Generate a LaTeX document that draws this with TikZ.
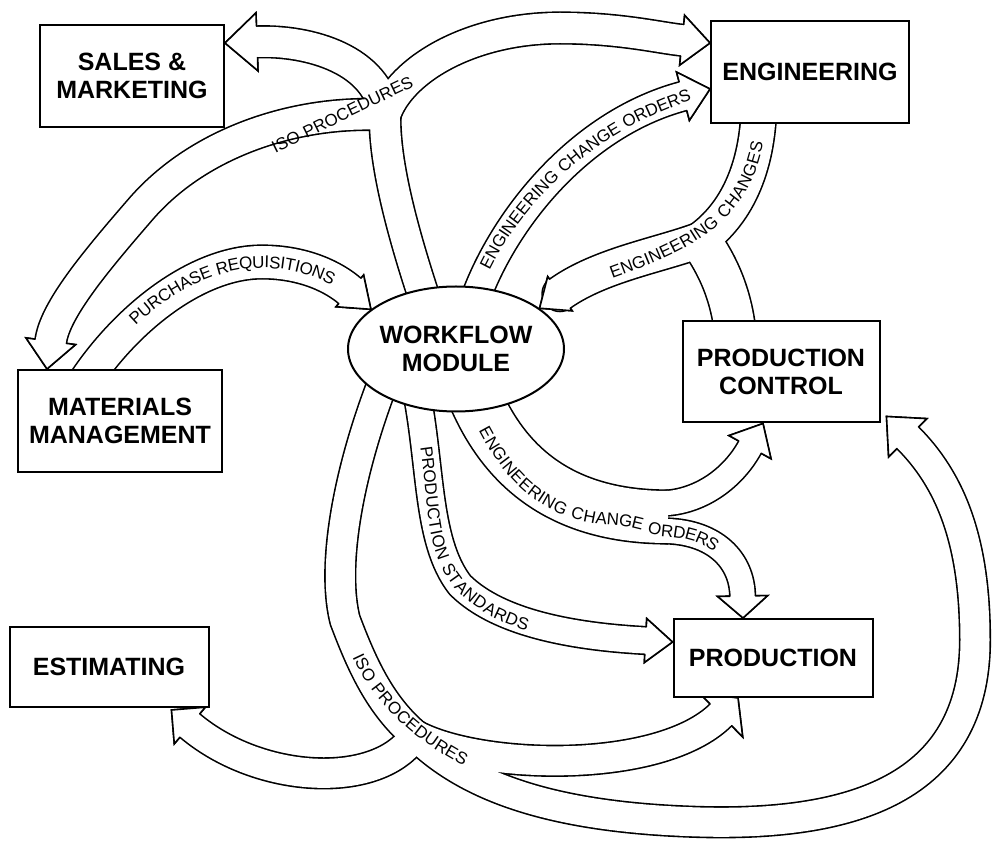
\documentclass[tikz,border=0pt]{standalone}
\usepackage{fontspec}
\setmainfont{Liberation Sans}
\newfontfamily\bandfont[LetterSpace=5]{Liberation Sans}
\newcommand\lblfont{\bandfont\fontsize{8.5}{10}\selectfont}
\usetikzlibrary{shapes.geometric,arrows.meta,calc,backgrounds,decorations.text}

% open head for the broad arrows
\pgfdeclarearrow{
  name = Band,
  parameters = {\the\pgfarrowlength,\the\pgfarrowwidth,\the\pgfarrowinset},
  setup code = {
    \pgfarrowssettipend{0pt}
    \pgfarrowssetbackend{-\pgfarrowlength}
    \pgfarrowssetlineend{-\pgfarrowlength}
    \pgfarrowssavethe\pgfarrowlength
    \pgfarrowssavethe\pgfarrowwidth
    \pgfarrowssavethe\pgfarrowinset
  },
  drawing code = {
    \pgfsetlinewidth{0.8pt}
    \pgfsetmiterjoin
    \pgfpathmoveto{\pgfqpoint{-\pgfarrowlength}{\pgfarrowinset}}
    \pgfpathlineto{\pgfqpoint{-\pgfarrowlength}{.5\pgfarrowwidth}}
    \pgfpathlineto{\pgfqpoint{0pt}{0pt}}
    \pgfpathlineto{\pgfqpoint{-\pgfarrowlength}{-.5\pgfarrowwidth}}
    \pgfpathlineto{\pgfqpoint{-\pgfarrowlength}{-\pgfarrowinset}}
    \pgfusepathqfillstroke
  },
  defaults = {length = 14pt, width = 25pt, inset = 7.9pt}
}

\begin{document}
\begin{tikzpicture}[x=0.5pt, y=-0.5pt,
    box/.style={draw, line width=1pt, fill=white, align=center, inner sep=0pt,
      font=\bfseries\fontsize{12.5}{14}\selectfont},
    band/.style={line width=#1, line cap=round, line join=round},
    bandtip/.style={-{Band[#1, fill=white, color=black]}},
    lbl/.style={decorate, decoration={text along path, text={|\lblfont|#1},
      text align=center, raise=-3pt}}]

  \useasboundingbox (0,0) rectangle (992,844);

  % departments
  \node[box, minimum width=92pt, minimum height=51pt] (sales) at (132,76) {SALES \&\\MARKETING};
  \node[box, minimum width=99pt, minimum height=51pt] (eng) at (810,72) {ENGINEERING};
  \node[box, minimum width=102pt, minimum height=51pt] (mat) at (120,421) {MATERIALS\\MANAGEMENT};
  \node[box, minimum width=99.5pt, minimum height=40pt] (est) at (109,667) {ESTIMATING};
  \node[box, minimum width=98.5pt, minimum height=50.5pt] (pc) at (781,372) {PRODUCTION\\CONTROL};
  \node[box, minimum width=99.5pt, minimum height=39pt] (prod) at (773,658) {PRODUCTION};
  \node[box, ellipse, minimum width=95.5pt, minimum height=62.5pt] (wf) at (456,349) {WORKFLOW\\MODULE};

  % branch points
  \coordinate (isoJ) at (385,115);
  \coordinate (ecJ) at (700,240);
  \coordinate (ecoJ) at (668,517);
  \coordinate (isoK) at (415,735);

  \begin{pgfonlayer}{background}
    \fill[white] (0,0) rectangle (992,844);
    % outline first, then the white inside
    \foreach \col/\extra in {black/1.6pt, white/0pt} {
      % ISO procedures, top
      \draw[\col, band=15pt+\extra] ($(wf)+(-26,-34)$) .. controls (408,250) and (384,170) .. (isoJ);
      \draw[\col, band=15pt+\extra, bandtip={inset=7.9pt, width=29pt, length=16pt}] (isoJ) .. controls (378,60) and (310,40) .. ([yshift=16.5pt]sales.east);
      \draw[\col, band=15pt+\extra, bandtip={inset=7.9pt}] (isoJ) .. controls (400,70) and (470,28) .. (560,28) .. controls (620,28) and (660,38) .. ([yshift=14.5pt]eng.west);
      \draw[\col, band=15pt+\extra, bandtip={inset=7.9pt}] (isoJ) .. controls (300,110) and (200,140) .. (140,210) .. controls (95,262) and (55,310) .. ([xshift=-36.5pt]mat.north);
      % purchase requisitions
      \draw[\col, band=16pt+\extra, bandtip={inset=8.4pt, width=21pt}] ([xshift=-20pt,yshift=-10pt]mat.north) .. controls (122,322) and (195,262) .. (262,262) .. controls (305,262) and (335,278) .. (wf.155);
      % engineering change orders, up
      \draw[\col, band=14pt+\extra, bandtip={inset=7.4pt}] ($(wf)+(14,-34)$) .. controls (495,230) and (575,125) .. ([yshift=-8.5pt]eng.west);
      % engineering changes
      \draw[\col, band=17pt+\extra] ([xshift=-25.5pt,yshift=10pt]eng.south) .. controls (758,170) and (735,215) .. (ecJ);
      \draw[\col, band=20pt+\extra] ($(ecJ)+(4,6)$) .. controls (720,270) and (733,300) .. ([xshift=-22.5pt,yshift=-10pt]pc.north);
      \draw[\col, band=17pt+\extra, bandtip={inset=8.9pt, width=21pt, length=12.5pt}] (ecJ) .. controls (660,255) and (600,265) .. (wf.26);
      % engineering change orders, down
      \draw[\col, band=26pt+\extra, line cap=butt] ($(wf)+(14,36)$) .. controls (495,450) and (545,517) .. (ecoJ);
      \draw[\col, band=12pt+\extra, bandtip={inset=6.4pt, width=24pt, length=13.5pt}] ($(ecoJ)+(0,-14)$) .. controls (702,500) and (733,478) .. ([xshift=-9pt]pc.south);
      \draw[\col, band=12pt+\extra, bandtip={inset=6.4pt, width=25pt, length=11pt}] ($(ecoJ)+(0,14)$) .. controls (715,533) and (742,560) .. ([xshift=-15pt]prod.north);
      % production standards
      \draw[\col, band=13pt+\extra, bandtip={inset=6.9pt, width=22pt, length=13.5pt}] ($(wf)+(-42,31)$) .. controls (432,460) and (425,540) .. (460,585) .. controls (500,625) and (580,637) .. ([yshift=8pt]prod.west);
      % ISO procedures, bottom
      \draw[\col, band=14.5pt+\extra] ($(wf)+(-64,11)$) .. controls (352,455) and (330,560) .. (345,620) .. controls (362,665) and (380,705) .. (isoK);
      \draw[\col, band=14.5pt+\extra, bandtip={inset=7.65pt, width=24pt, length=12pt}] (isoK) .. controls (380,790) and (260,785) .. ([xshift=-19pt,yshift=-1pt]est.south east);
      \draw[\col, band=14.5pt+\extra, bandtip={inset=7.65pt, width=31pt, length=12pt}] (isoK) .. controls (480,770) and (660,775) .. ([xshift=-17.5pt]prod.south);
      \draw[\col, band=14.5pt+\extra, bandtip={inset=7.65pt, width=27pt, length=15pt}] (isoK) .. controls (470,790) and (560,818) .. (700,822) .. controls (850,826) and (975,790) .. (975,640) .. controls (975,540) and (950,480) .. ([xshift=3pt,yshift=3.5pt]pc.south east);
    }
  \end{pgfonlayer}

  % labels along the arrows
  \path[lbl={PURCHASE REQUISITIONS}] (108,348) .. controls (140,305) and (200,262) .. (262,262) .. controls (305,262) and (335,278) .. (365,298);
  \path[lbl={ISO PROCEDURES}] (250,160) .. controls (300,135) and (370,100) .. (435,70);
  \path[lbl={ENGINEERING CHANGE ORDERS}] (478,282) .. controls (505,215) and (580,125) .. (705,90);
  \path[lbl={ENGINEERING CHANGES}] (590,280) .. controls (640,262) and (690,245) .. (720,215) .. controls (745,190) and (757,160) .. (760,120);
  \path[lbl={ENGINEERING CHANGE ORDERS}, decoration={text align=left}] (484,428) .. controls (505,468) and (540,515) .. (610,519) .. controls (640,521) and (655,530) .. (668,531) .. controls (715,533) and (742,560) .. (743,610);
  \path[lbl={PRODUCTION STANDARDS}] (420,415) .. controls (437,480) and (425,545) .. (460,585) .. controls (485,612) and (520,625) .. (560,632);
  \path[lbl={ISO PROCEDURES}] (345,615) .. controls (360,690) and (420,745) .. (505,778);
\end{tikzpicture}
\end{document}
